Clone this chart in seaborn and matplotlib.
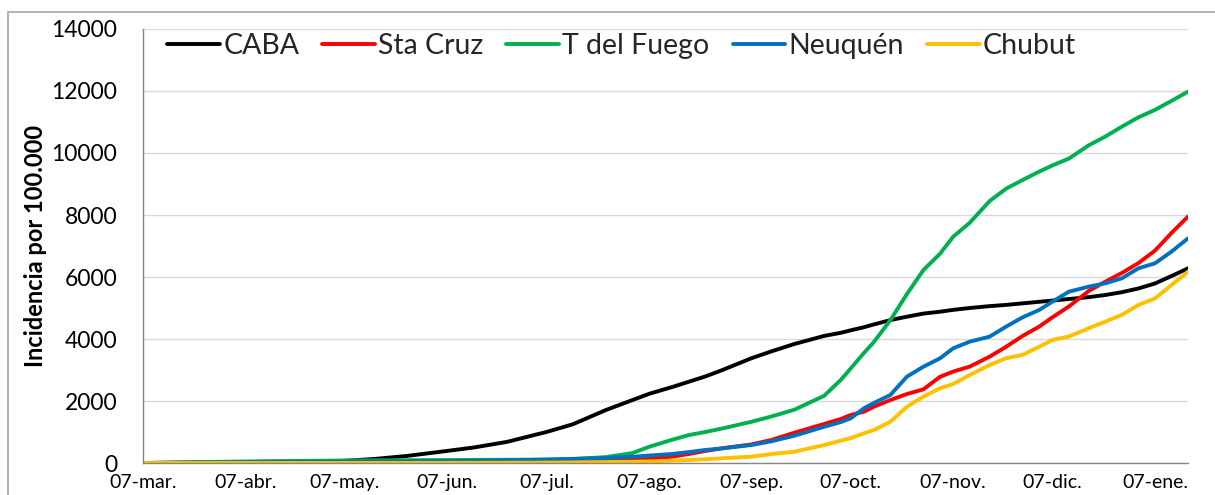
import matplotlib
matplotlib.use("Agg")
import matplotlib.pyplot as plt
import seaborn as sns
import pandas as pd
import numpy as np
from matplotlib.lines import Line2D
from matplotlib.patches import Rectangle

# ---------------- data ----------------
dates = ["2020-03-07", "2020-04-07", "2020-05-07", "2020-05-16", "2020-05-26",
         "2020-06-07", "2020-06-15", "2020-06-25", "2020-07-07", "2020-07-15",
         "2020-07-25", "2020-08-02", "2020-08-07", "2020-08-14", "2020-08-19",
         "2020-08-24", "2020-08-29", "2020-09-07", "2020-09-13", "2020-09-20",
         "2020-09-29", "2020-10-04", "2020-10-07", "2020-10-11", "2020-10-14",
         "2020-10-19", "2020-10-24", "2020-10-29", "2020-11-03", "2020-11-07",
         "2020-11-12", "2020-11-18", "2020-11-23", "2020-11-28", "2020-12-03",
         "2020-12-07", "2020-12-12", "2020-12-18", "2020-12-23", "2020-12-28",
         "2021-01-02", "2021-01-07", "2021-01-12", "2021-01-17"]

caba = [0, 30, 70, 130, 230, 390, 500, 680, 1000, 1250,
        1710, 2030, 2230, 2450, 2620, 2790, 2990, 3380, 3600, 3840,
        4100, 4200, 4280, 4380, 4470, 4610, 4720, 4820, 4880, 4940,
        5000, 5060, 5100, 5150, 5200, 5240, 5290, 5350, 5420, 5510,
        5630, 5790, 6030, 6280]

sta_cruz = [0, 5, 15, 18, 22, 30, 35, 42, 50, 60,
            80, 100, 130, 204, 290, 387, 473, 600, 742, 978,
            1260, 1420, 1548, 1655, 1816, 2032, 2226, 2377, 2780, 2950,
            3110, 3430, 3750, 4100, 4400, 4700, 5050, 5550, 5850, 6130,
            6450, 6850, 7420, 7950]

t_del_fuego = [0, 50, 80, 85, 90, 95, 100, 105, 110, 130,
               190, 320, 520, 750, 900, 1000, 1110, 1330, 1500, 1720,
               2170, 2680, 3050, 3550, 3900, 4610, 5450, 6226, 6750, 7300,
               7750, 8450, 8850, 9130, 9400, 9600, 9820, 10250, 10530, 10850,
               11150, 11390, 11680, 11980]

neuquen = [0, 20, 40, 45, 50, 60, 70, 85, 110, 130,
           160, 200, 240, 290, 350, 420, 470, 580, 700, 880,
           1170, 1320, 1441, 1764, 1935, 2194, 2785, 3107, 3376, 3700,
           3915, 4075, 4400, 4700, 4936, 5204, 5527, 5689, 5797, 5957,
           6280, 6441, 6817, 7248]

chubut = [0, 0, 2, 3, 4, 5, 6, 8, 12, 18,
          30, 40, 50, 75, 97, 120, 150, 204, 290, 365,
          580, 720, 800, 957, 1065, 1333, 1816, 2140, 2410, 2550,
          2840, 3160, 3380, 3490, 3750, 3970, 4080, 4350, 4560, 4780,
          5100, 5310, 5740, 6170]

series_names = ["CABA", "Sta Cruz", "T del Fuego", "Neuquén", "Chubut"]
series_colors = ["#000000", "#FF0000", "#00B050", "#0070C0", "#FFC000"]

tick_dates = ["2020-03-07", "2020-04-07", "2020-05-07", "2020-06-07", "2020-07-07",
              "2020-08-07", "2020-09-07", "2020-10-07", "2020-11-07", "2020-12-07",
              "2021-01-07"]
tick_labels = ["07-mar.", "07-abr.", "07-may.", "07-jun.", "07-jul.", "07-ago.",
               "07-sep.", "07-oct.", "07-nov.", "07-dic.", "07-ene."]
y_ticks = [0, 2000, 4000, 6000, 8000, 10000, 12000, 14000]

# ---------------- build frame ----------------
frames = []
for name, vals in zip(series_names, [caba, sta_cruz, t_del_fuego, neuquen, chubut]):
    frames.append(pd.DataFrame({"fecha": pd.to_datetime(dates), "valor": vals, "serie": name}))
df = pd.concat(frames, ignore_index=True)

sns.set_theme(style="white")
plt.rcParams["font.family"] = ["Lato", "DejaVu Sans"]

fig = plt.figure(figsize=(12.15, 4.95), dpi=100)
ax = fig.add_axes([143 / 1215, 1 - 463 / 495, (1188 - 143) / 1215, (463 - 29) / 495])

sns.lineplot(data=df, x="fecha", y="valor", hue="serie", hue_order=series_names,
             palette=series_colors, estimator=None, linewidth=2.8, ax=ax, legend=False)

ax.set_xlim(pd.Timestamp("2020-03-07"), pd.Timestamp("2021-01-17"))
ax.set_ylim(0, 14000)
ax.set_yticks(y_ticks)
ax.set_yticklabels([str(v) for v in y_ticks], fontsize=16.5)
ax.set_xticks(pd.to_datetime(tick_dates))
ax.set_xticklabels(tick_labels, fontsize=14)
ax.grid(axis="y", color="#d9d9d9", linewidth=1.0)
ax.grid(axis="x", visible=False)
ax.set_axisbelow(True)

for s in ["top", "right"]:
    ax.spines[s].set_visible(False)
for s in ["left", "bottom"]:
    ax.spines[s].set_color("#868686")
    ax.spines[s].set_linewidth(1.0)

ax.tick_params(axis="y", which="major", direction="out", length=4.5, width=1,
               color="#868686", pad=14, labelcolor="black")
ax.tick_params(axis="x", which="major", direction="out", length=5, width=1,
               color="#868686", pad=3, labelcolor="black")
ax.set_xlabel("")
ax.set_ylabel("Incidencia por 100.000", fontsize=17, fontweight="bold",
              labelpad=3, color="black")

handles = [Line2D([0], [0], color=c, linewidth=2.8) for c in series_colors]
ax.legend(handles, series_names, loc="upper left", ncol=5, frameon=False,
          fontsize=20.5, handlelength=1.85, handletextpad=0.12, columnspacing=0.8,
          bbox_to_anchor=(0.007, 1.03), borderaxespad=0.2)

# outer chart border
fig.add_artist(Rectangle((8 / 1215, -0.1), 1.2, (495 - 12) / 495 + 0.1,
                         transform=fig.transFigure, fill=False,
                         edgecolor="#a6a6a6", linewidth=1.2))

fig.savefig("out.png", dpi=100)
